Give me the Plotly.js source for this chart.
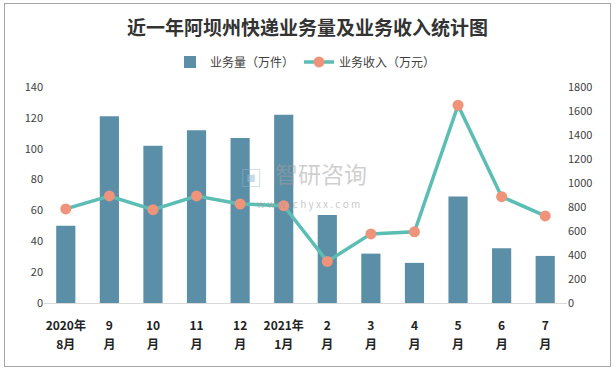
<!DOCTYPE html>
<html><head><meta charset="utf-8">
<script src="https://cdn.plot.ly/plotly-3.0.1.min.js"></script>
<style>html,body{margin:0;padding:0;background:#fff}#c{width:615px;height:369px}
#frame{position:absolute;left:4px;top:3px;width:605px;height:362px;border:1px solid #a6a6a6;pointer-events:none}</style>
</head><body><div id="c"></div><div id="frame"></div>
<script>
const labelTop = ["2020年","9","10","11","12","2021年","2","3","4","5","6","7"];
const labelBottom = ["8月","月","月","月","月","1月","月","月","月","月","月","月"];
const volume = [50, 121, 102, 112, 107, 122, 57, 32, 26, 69, 35.5, 30.5];
const revenue = [784, 892, 778, 892, 825, 811, 346, 576, 593, 1648, 886, 726];
const idx = labelTop.map((_, i) => i);
const font = "'Noto Sans CJK SC', 'Noto Sans', sans-serif";

const traces = [
  {type:'bar', name:'业务量（万件）', x: idx, y: volume, width:0.44,
   marker:{color:'#5b8fa7'}, yaxis:'y'},
  {type:'scatter', mode:'lines+markers', name:'业务收入（万元）', x: idx, y: revenue, yaxis:'y2',
   line:{color:'#5bbdb4', width:3.5}, marker:{color:'#ef937a', size:11}},
  {type:'scatter', mode:'none', x: idx, y: volume.map(()=>null), xaxis:'x2', yaxis:'y', showlegend:false, hoverinfo:'skip'}
];
const layout = {
  width:615, height:369,
  margin:{l:44, r:48, t:87, b:66},
  paper_bgcolor:'rgba(0,0,0,0)', plot_bgcolor:'rgba(0,0,0,0)',
  font:{family:font, color:'#404040', size:11},
  title:{text:'<b>近一年阿坝州快递业务量及业务收入统计图</b>', x:0.5, xanchor:'center', y:0.922, yanchor:'middle',
    font:{family:font, size:19, color:'#333'}},
  showlegend:true,
  legend:{orientation:'h', x:0.5, xanchor:'center', y:1.116, yanchor:'middle', font:{size:12, color:'#404040'}, traceorder:'normal'},
  bargap:0.5,
  xaxis:{tickmode:'array', tickvals: idx, ticktext: labelTop.map(c=>'<b>'+c+'</b>'), range:[-0.5, 11.5],
    showgrid:false, zeroline:false, showline:true, linecolor:'#d9d9d9', linewidth:1, ticks:'',
    ticklabelstandoff:12, tickfont:{size:12, color:'#222'}},
  xaxis2:{overlaying:'x', matches:'x', anchor:'y', side:'bottom', tickmode:'array', tickvals: idx,
    ticktext: labelBottom.map(c=>'<b>'+c+'</b>'), range:[-0.5, 11.5],
    showgrid:false, zeroline:false, showline:false, ticks:'', ticklabelstandoff:33, tickfont:{size:12, color:'#222'}},
  yaxis:{range:[0,140], dtick:20, showgrid:false, zeroline:false, showline:false, ticks:'',
    tickfont:{size:11, color:'#404040'}},
  yaxis2:{range:[0,1800], dtick:200, overlaying:'y', side:'right', showgrid:false, zeroline:false, showline:false, ticks:'',
    tickfont:{size:11, color:'#404040'}},
  annotations:[
    {xref:'paper', yref:'paper', x:0.396, y:0.59, xanchor:'center', yanchor:'middle', showarrow:false,
     text:'▣', font:{size:22, color:'rgba(150,185,215,0.55)'}},
    {xref:'paper', yref:'paper', x:0.53, y:0.6, xanchor:'center', yanchor:'middle', showarrow:false,
     text:'智研咨询', font:{size:23, color:'rgba(160,160,160,0.5)'}},
    {xref:'paper', yref:'paper', x:0.505, y:0.462, xanchor:'center', yanchor:'middle', showarrow:false,
     text:'w w w . c h y x x . c o m', font:{size:10, color:'rgba(160,160,160,0.6)'}}
  ]
};
Plotly.newPlot('c', traces, layout, {displayModeBar:false, staticPlot:true});
</script></body></html>
